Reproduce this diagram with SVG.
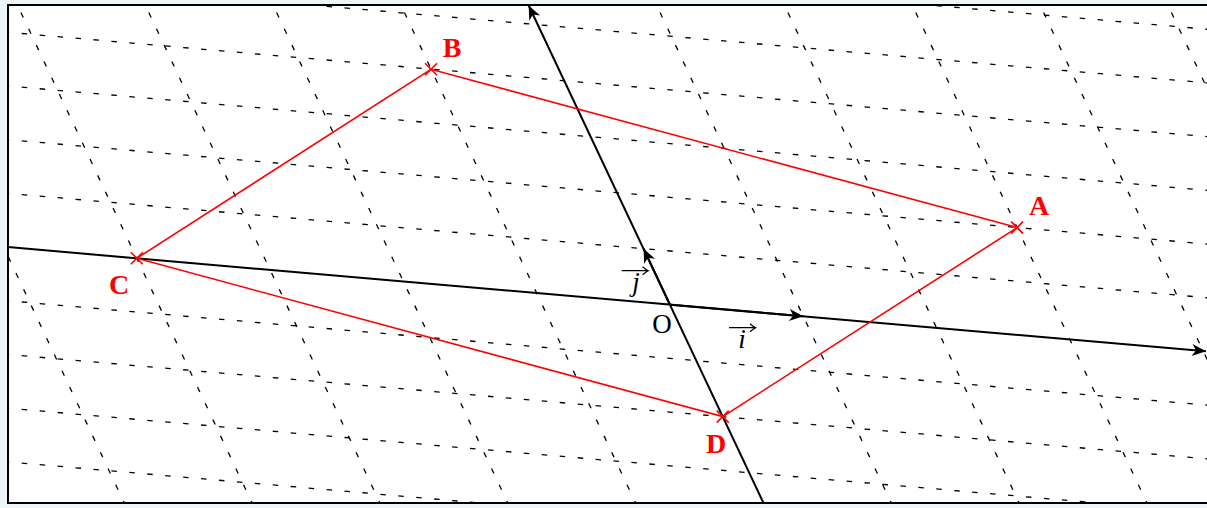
<svg xmlns="http://www.w3.org/2000/svg" width="1207" height="508" viewBox="0 0 1207 508">
<defs>
<clipPath id="frame"><rect x="8" y="5" width="1199" height="498"/></clipPath>
<marker id="ah" viewBox="-15 -7 16 14" markerWidth="16" markerHeight="14" refX="0" refY="0" orient="auto" markerUnits="userSpaceOnUse"><path d="M0,0 L-14,-6 L-10,0 L-14,6 Z" fill="#000"/></marker>
</defs>
<style>
.grid line{stroke:#000;stroke-width:1.3;stroke-dasharray:5.5 12.5;fill:none}
.axis{stroke:#000;stroke-width:2;fill:none}
.red{stroke:#f00;stroke-width:1.6;fill:none}
.cross{stroke:#f00;stroke-width:1.6;fill:none}
.lbl{font-family:"Liberation Serif",serif;font-weight:bold;font-size:28px;fill:#f00;text-anchor:middle}
.math{font-family:"Liberation Serif",serif;font-size:27px;fill:#000;text-anchor:middle}
.vec{stroke:#000;stroke-width:1.2;fill:none}
</style>
<rect x="0" y="0" width="1207" height="508" fill="#eef5f9"/>
<rect x="8" y="5" width="1210" height="498" fill="#fff"/>
<g id="grid" class="grid" clip-path="url(#frame)">
<line x1="-50" y1="456.85" x2="1260" y2="570.84"/>
<line x1="-50" y1="403.15" x2="1260" y2="517.14"/>
<line x1="-50" y1="349.45" x2="1260" y2="463.44"/>
<line x1="-50" y1="295.75" x2="1260" y2="409.74"/>
<line x1="-50" y1="188.35" x2="1260" y2="302.34"/>
<line x1="-50" y1="134.65" x2="1260" y2="248.64"/>
<line x1="-50" y1="80.95" x2="1260" y2="194.94"/>
<line x1="-50" y1="27.25" x2="1260" y2="141.24"/>
<line x1="-50" y1="-26.45" x2="1260" y2="87.54"/>
<line x1="-50" y1="-80.15" x2="1260" y2="33.84"/>
<line x1="-122.22" y1="-20" x2="137.06" y2="530"/>
<line x1="5.61" y1="-20" x2="264.89" y2="530"/>
<line x1="133.44" y1="-20" x2="392.72" y2="530"/>
<line x1="261.27" y1="-20" x2="520.55" y2="530"/>
<line x1="389.10" y1="-20" x2="648.38" y2="530"/>
<line x1="644.76" y1="-20" x2="904.04" y2="530"/>
<line x1="772.59" y1="-20" x2="1031.87" y2="530"/>
<line x1="900.42" y1="-20" x2="1159.70" y2="530"/>
<line x1="1028.25" y1="-20" x2="1287.53" y2="530"/>
<line x1="1156.08" y1="-20" x2="1415.36" y2="530"/>
</g>
<g id="axes">
<line class="axis" x1="8" y1="247.1" x2="1206" y2="351.3" marker-end="url(#ah)"/>
<line class="axis" x1="763.5" y1="503" x2="528.7" y2="5.5" marker-end="url(#ah)"/>
<line class="axis" x1="670" y1="304.7" x2="803.3" y2="316.3" marker-end="url(#ah)"/>
<line class="axis" x1="670" y1="304.7" x2="643.6" y2="248.7" marker-end="url(#ah)"/>
</g>
<rect x="8" y="5" width="1210" height="498" fill="none" stroke="#000" stroke-width="2"/>
<g id="connectors">
<path class="red" d="M1017.1,227.6 L431,69.3 L136.8,258.3 L722.7,416.6 Z"/>
</g>
<g id="A"><path class="cross" d="M1011.1,221.6 L1023.1,233.6 M1011.1,233.6 L1023.1,221.6"/><text class="lbl" x="1039" y="215">A</text></g>
<g id="B"><path class="cross" d="M425,63.3 L437,75.3 M425,75.3 L437,63.3"/><text class="lbl" x="452" y="57">B</text></g>
<g id="C"><path class="cross" d="M130.8,252.3 L142.8,264.3 M130.8,264.3 L142.8,252.3"/><text class="lbl" x="119" y="294">C</text></g>
<g id="D"><path class="cross" d="M716.7,410.6 L728.7,422.6 M716.7,422.6 L728.7,410.6"/><text class="lbl" x="716" y="453">D</text></g>
<g id="O"><text class="math" x="662" y="333">O</text></g>
<g id="vi"><text class="math" x="742" y="348" font-style="italic">i</text><path class="vec" d="M729,327.7 L755.7,327.7 M750,323.7 Q753.5,326.7 755.7,327.7 Q753.5,328.7 750,331.7"/></g>
<g id="vj"><text class="math" x="636" y="291" font-style="italic">j</text><path class="vec" d="M621.7,270.7 L648.3,270.7 M642.6,266.7 Q646.1,269.7 648.3,270.7 Q646.1,271.7 642.6,274.7"/></g>
</svg>
